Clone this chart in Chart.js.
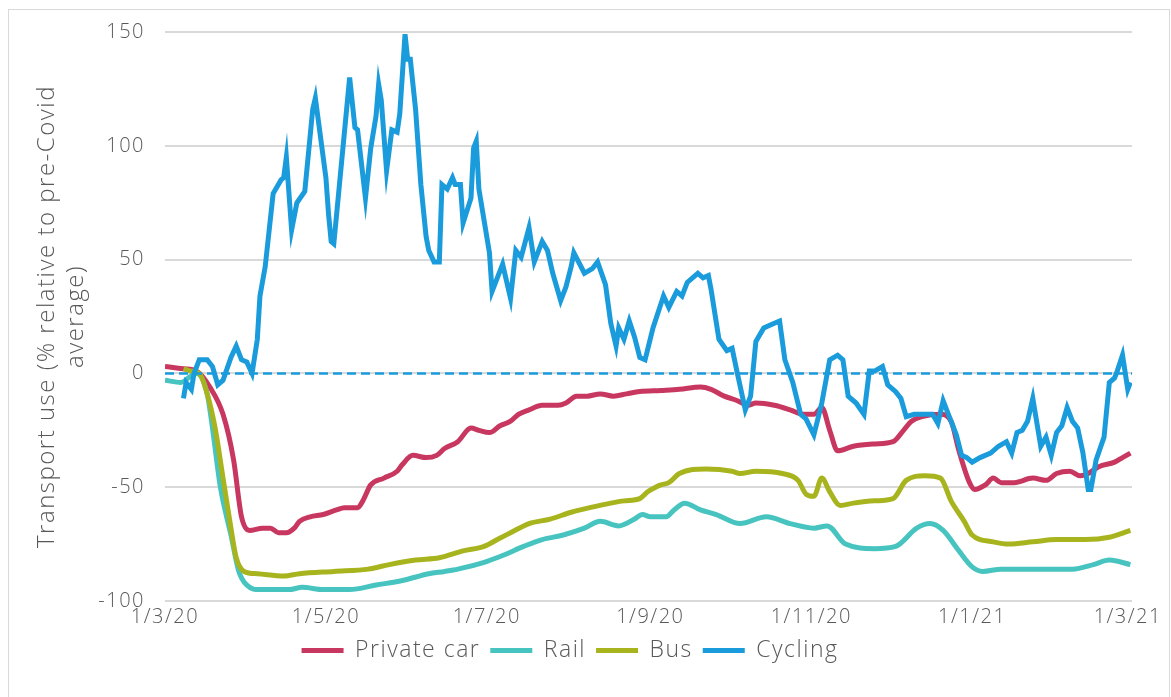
<!DOCTYPE html>
<html>
<head>
<meta charset="utf-8">
<script src="https://cdn.jsdelivr.net/npm/chart.js@4"></script>
<style>
  html, body { margin: 0; padding: 0; background: #fff; }
  #frame { position: absolute; left: 8px; top: 9px; width: 1160px; height: 720px; border: 1px solid #d9d9d9; }
  #wrap { position: absolute; left: 0; top: 0; width: 1171px; height: 697px; }
</style>
</head>
<body>
<div id="frame"></div>
<div id="wrap"><canvas id="chart_transport"></canvas></div>
<script>
// days counted from 1/3/20
var tickDays = [0, 61, 122, 184, 245, 306, 365];
var tickLabels = ['1/3/20', '1/5/20', '1/7/20', '1/9/20', '1/11/20', '1/1/21', '1/3/21'];

var carDays = [0, 7, 12, 17, 22, 26, 29, 32, 37, 40, 43, 46, 49, 51, 55, 60, 65, 68, 73, 75, 78, 83, 88, 90, 94, 99, 103, 106, 111, 116, 119, 123, 127, 131, 134, 138, 143, 149, 152, 156, 160, 165, 170, 175, 180, 188, 195, 203, 207, 212, 217, 221, 224, 231, 237, 242, 246, 249, 252, 255, 261, 269, 276, 280, 283, 287, 294, 298, 301, 305, 307, 311, 314, 317, 322, 329, 334, 338, 343, 347, 350, 354, 360, 363, 366];
var carValues = [3, 2, 1, -6, -18, -38, -63, -69, -68, -68, -70, -70, -68, -65, -63, -62, -60, -59, -59, -56, -49, -46, -43, -40, -36, -37, -36, -33, -30, -24, -25, -26, -23, -21, -18, -16, -14, -14, -13, -10, -10, -9, -10, -9, -8, -7.5, -7, -6, -7, -10, -12, -14, -13, -14, -16, -18, -18, -15, -25, -34, -32, -31, -30, -25, -21, -19, -18, -21, -34, -48, -51, -49, -46, -48, -48, -46, -47, -44, -43, -45, -44, -41, -39, -37, -35];

var railDays = [0, 6, 10, 12, 16, 18, 21, 25, 28, 31, 36, 47, 52, 60, 70, 80, 90, 100, 106, 111, 121, 128, 136, 143, 151, 159, 165, 172, 178, 181, 184, 190, 193, 197, 203, 209, 218, 228, 237, 246, 251, 258, 269, 277, 285, 290, 295, 301, 306, 310, 317, 332, 344, 352, 358, 366];
var railValues = [-3, -4, -1, 0, -9, -24, -50, -71, -87, -93, -95, -95, -94, -95, -95, -93, -91, -88, -87, -86, -83, -80, -76, -73, -71, -68, -65, -67, -64, -62, -63, -63, -60, -57, -60, -62, -66, -63, -66, -68, -67, -75, -77, -76, -68, -66, -69, -78, -85, -87, -86, -86, -86, -84, -82, -84];

var busDays = [7, 10, 13, 16, 19, 22, 25, 27, 30, 35, 45, 51, 64, 77, 85, 95, 104, 113, 121, 126, 131, 138, 146, 154, 161, 169, 174, 180, 183, 186, 188, 191, 195, 205, 215, 218, 224, 234, 240, 243, 246, 249, 252, 256, 261, 269, 276, 281, 288, 294, 298, 303, 306, 314, 320, 329, 338, 349, 358, 366];
var busValues = [2, 1, 0, -9, -24, -46, -68, -81, -87, -88, -89, -88, -87, -86, -84, -82, -81, -78, -76, -73, -70, -66, -64, -61, -59, -57, -56, -55, -52, -50, -49, -48, -44, -42, -43, -44, -43, -44, -47, -53, -54, -46, -52, -58, -57, -56, -55, -47, -45, -46, -56, -65, -71, -74, -75, -74, -73, -73, -72, -69];

var cycleDays = [7, 8, 10, 11, 13, 16, 18, 20, 22, 25, 27, 29, 31, 33, 35, 36, 38, 41, 44, 45, 46, 48, 50, 53, 56, 57, 61, 62, 63, 64, 70, 72, 73, 74, 76, 78, 80, 81, 82, 84, 86, 88, 89, 91, 92, 93, 95, 97, 99, 100, 102, 104, 105, 107, 109, 110, 112, 113, 116, 117, 118, 119, 123, 124, 128, 131, 133, 135, 138, 140, 143, 145, 147, 150, 152, 154, 155, 159, 162, 164, 167, 169, 171, 172, 174, 176, 178, 180, 182, 185, 189, 191, 194, 196, 198, 202, 204, 206, 207, 210, 213, 215, 217, 220, 222, 224, 227, 231, 233, 235, 238, 241, 243, 246, 249, 252, 255, 257, 259, 262, 265, 267, 269, 272, 274, 277, 279, 281, 284, 286, 289, 291, 293, 295, 297, 300, 302, 304, 306, 309, 313, 316, 319, 321, 323, 325, 327, 329, 330, 332, 334, 336, 338, 340, 342, 344, 346, 348, 350, 351, 353, 356, 358, 360, 361, 363, 365, 366];
var cycleValues = [-11, -4, -7, 0, 6, 6, 3, -5, -3, 7, 12, 6, 5, 0, 15, 34, 47, 79, 85, 86, 95, 63, 75, 80, 116, 121, 86, 70, 58, 57, 130, 108, 107, 97, 77, 99, 113, 127, 120, 89, 107, 106, 114, 149, 138, 138, 116, 83, 60, 54, 49, 49, 83, 81, 86, 83, 83, 66, 77, 99, 102, 81, 53, 36, 48, 33, 54, 51, 64, 49, 58, 54, 44, 32, 38, 47, 53, 44, 46, 49, 39, 22, 12, 20, 15, 23, 16, 7, 6, 20, 34, 29, 36, 34, 40, 44, 42, 43, 37, 15, 10, 11, 0, -16, -10, 14, 20, 22, 23, 6, -4, -18, -20, -27, -13, 6, 8, 6, -10, -13, -18, 1, 1, 3, -5, -8, -11, -19, -18, -18, -18, -18, -22, -12, -18, -27, -36, -37, -39, -37, -35, -32, -30, -35, -26, -25, -21, -11, -18, -32, -28, -36, -26, -23, -15, -21, -24, -35, -51, -51, -38, -28, -4, -2, 1, 8, -7, -4];

var zeroDays = [0, 366.6];
var zeroValues = [0, 0];

function toPoints(days, values) {
    return days.map((d, i) => ({ x: d, y: values[i] }));
}

var textColor = '#595959';
var tickFont = { family: "'Open Sans', sans-serif", size: 20, weight: '300' };
var titleFont = { family: "'Open Sans', sans-serif", size: 24, weight: '300' };
var legendFont = { family: "'Open Sans', sans-serif", size: 23, weight: '300' };

// the original font is a wide geometric face; spread the letters a little
var letterSpacing = {
    id: 'letterSpacing',
    beforeLayout: (chart) => { chart.ctx.letterSpacing = '1.5px'; },
    beforeDraw: (chart) => { chart.ctx.letterSpacing = '1.5px'; }
};

new Chart(document.getElementById('chart_transport'), {
    type: 'line',
    plugins: [letterSpacing],
    data: {
        datasets: [{
            label: 'Private car',
            data: toPoints(carDays, carValues),
            borderColor: '#C8375F',
            backgroundColor: '#C8375F',
            borderWidth: 5,
            cubicInterpolationMode: 'monotone',
            order: 4
        }, {
            label: 'Rail',
            data: toPoints(railDays, railValues),
            borderColor: '#48C4C0',
            backgroundColor: '#48C4C0',
            borderWidth: 5,
            cubicInterpolationMode: 'monotone',
            order: 3
        }, {
            label: 'Bus',
            data: toPoints(busDays, busValues),
            borderColor: '#A8B41E',
            backgroundColor: '#A8B41E',
            borderWidth: 5,
            cubicInterpolationMode: 'monotone',
            order: 2
        }, {
            label: 'Cycling',
            data: toPoints(cycleDays, cycleValues),
            borderColor: '#1A9BDB',
            backgroundColor: '#1A9BDB',
            borderWidth: 5,
            order: 0
        }, {
            label: 'zero',
            data: toPoints(zeroDays, zeroValues),
            borderColor: '#1A9BDB',
            borderWidth: 2.5,
            borderDash: [9, 5],
            order: 1
        }]
    },
    options: {
        responsive: true,
        maintainAspectRatio: false,
        animation: false,
        layout: { padding: { left: 8, right: 39, top: 32, bottom: 25 } },
        elements: {
            point: { radius: 0 },
            line: { tension: 0 }
        },
        plugins: {
            tooltip: { enabled: false },
            legend: {
                position: 'bottom',
                labels: {
                    usePointStyle: true,
                    pointStyle: 'line',
                    pointStyleWidth: 42,
                    color: textColor,
                    font: legendFont,
                    padding: 10,
                    filter: (item) => item.text !== 'zero',
                    sort: (a, b) => a.datasetIndex - b.datasetIndex
                }
            }
        },
        scales: {
            x: {
                type: 'linear',
                min: 0,
                max: 366.6,
                afterFit: (scale) => { scale.height = 28; },
                grid: { display: false, drawTicks: false },
                border: { display: false },
                afterBuildTicks: (scale) => {
                    scale.ticks = tickDays.map(v => ({ value: v }));
                },
                ticks: {
                    autoSkip: false,
                    maxRotation: 0,
                    padding: 4,
                    color: textColor,
                    font: tickFont,
                    callback: (v) => tickLabels[tickDays.indexOf(v)]
                }
            },
            y: {
                min: -100,
                max: 150,
                afterFit: (scale) => { scale.width = 157; },
                grid: { color: '#d9d9d9', lineWidth: 2, drawTicks: false },
                border: { display: false },
                ticks: { stepSize: 50, padding: 20, color: textColor, font: tickFont },
                title: {
                    display: true,
                    text: ['Transport use (% relative to pre-Covid', 'average)'],
                    color: textColor,
                    font: titleFont,
                    padding: { top: 25, bottom: 0 }
                }
            }
        }
    }
});
</script>
</body>
</html>
